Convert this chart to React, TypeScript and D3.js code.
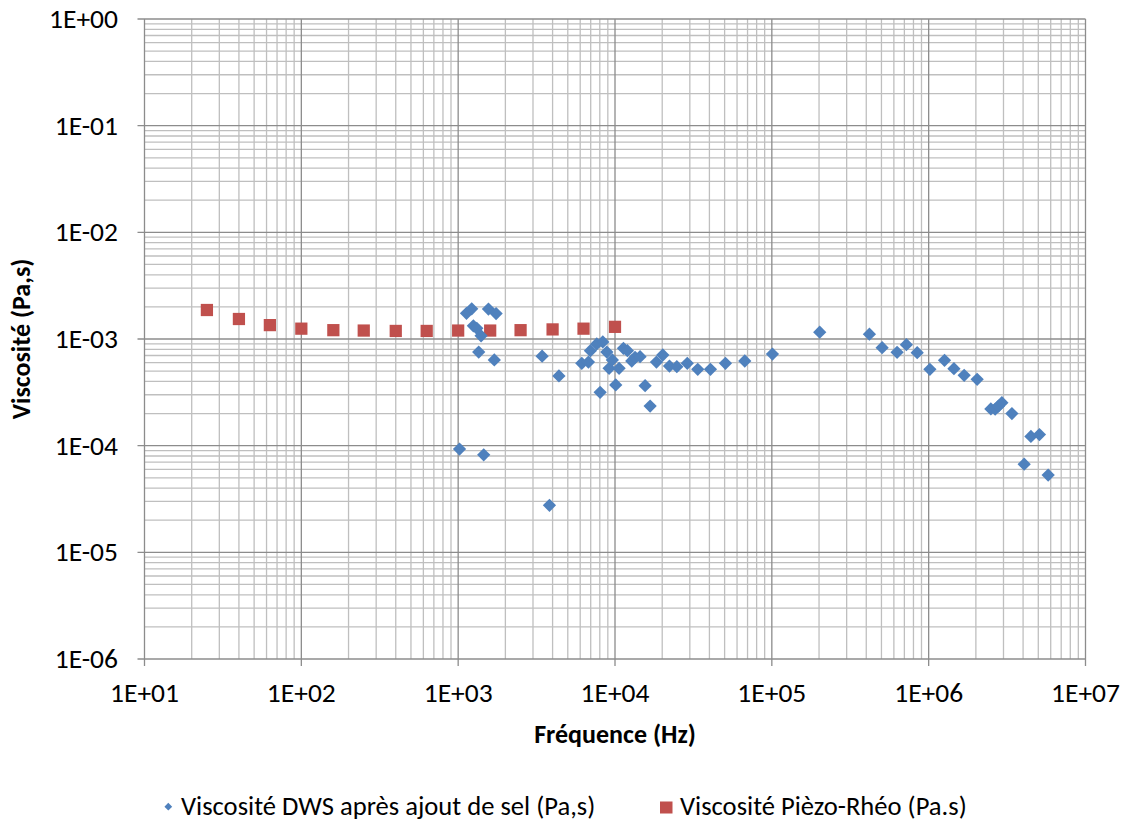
import React from "react";
import * as d3 from "d3";

const dwsFreq = [1020, 1130, 1220, 1250, 1315, 1352, 1400, 1455, 1560, 1700, 1745, 3430, 3820, 4390, 6140, 6770, 6970, 7650, 8040, 8360, 8870, 9170, 9620, 10110, 10620, 11320, 12000, 12790, 13430, 14450, 15560, 16750, 18380, 20170, 22250, 24790, 28900, 33700, 40600, 50600, 67200, 100900, 202000, 419000, 505000, 629000, 721000, 845000, 1018000, 1262000, 1449000, 1684000, 2038000, 2492000, 2655000, 2788000, 2930000, 3395000, 4065000, 4487000, 5085000, 5780000];
const dwsVisc = [9.3e-5, 1.74e-3, 1.92e-3, 1.33e-3, 1.26e-3, 7.55e-4, 1.07e-3, 8.2e-5, 1.91e-3, 6.36e-4, 1.73e-3, 6.9e-4, 2.76e-5, 4.5e-4, 5.92e-4, 6.08e-4, 7.77e-4, 8.98e-4, 3.16e-4, 9.38e-4, 7.55e-4, 5.31e-4, 6.36e-4, 3.71e-4, 5.31e-4, 8.18e-4, 7.77e-4, 6.22e-4, 6.73e-4, 6.83e-4, 3.65e-4, 2.35e-4, 6.08e-4, 7.08e-4, 5.58e-4, 5.5e-4, 5.92e-4, 5.2e-4, 5.2e-4, 5.92e-4, 6.22e-4, 7.23e-4, 1.16e-3, 1.11e-3, 8.3e-4, 7.5e-4, 8.85e-4, 7.44e-4, 5.2e-4, 6.31e-4, 5.27e-4, 4.57e-4, 4.19e-4, 2.21e-4, 2.2e-4, 2.35e-4, 2.53e-4, 2.0e-4, 6.7e-5, 1.22e-4, 1.27e-4, 5.3e-5];

const piezoFreq = [25, 40, 63, 100, 160, 250, 400, 630, 1000, 1600, 2500, 4000, 6300, 10000];
const piezoVisc = [1.87e-3, 1.54e-3, 1.35e-3, 1.25e-3, 1.21e-3, 1.2e-3, 1.19e-3, 1.19e-3, 1.2e-3, 1.2e-3, 1.21e-3, 1.23e-3, 1.25e-3, 1.3e-3];

const xTickLabels = ["1E+01", "1E+02", "1E+03", "1E+04", "1E+05", "1E+06", "1E+07"];
const yTickLabels = ["1E-06", "1E-05", "1E-04", "1E-03", "1E-02", "1E-01", "1E+00"];

const seriesNames = ["Viscosité DWS après ajout de sel (Pa,s)", "Viscosité Pièzo-Rhéo (Pa.s)"];
const xTitle = "Fréquence (Hz)";
const yTitle = "Viscosité (Pa,s)";

const W = 1128;
const H = 821;
const left = 144.5;
const right = 1085.5;
const top = 19;
const bottom = 659;
const FONT = "Carlito, Lato, 'Liberation Sans', sans-serif";
const BLUE = "#4F81BD";
const RED = "#C0504D";

export default function App() {
  const x = d3.scaleLog().domain([10, 1e7]).range([left, right]);
  const y = d3.scaleLog().domain([1e-6, 1]).range([bottom, top]);

  const xMinor: number[] = [];
  for (let e = 1; e < 7; e++) for (let m = 2; m <= 9; m++) xMinor.push(m * Math.pow(10, e));
  const yMinor: number[] = [];
  for (let e = -6; e < 0; e++) for (let m = 2; m <= 9; m++) yMinor.push(m * Math.pow(10, e));
  const xMajor = xTickLabels.map((_, i) => Math.pow(10, i + 1));
  const yMajor = yTickLabels.map((_, i) => Math.pow(10, i - 6));

  const diamond = d3.symbol().type(d3.symbolSquare).size(88)();
  const square = d3.symbol().type(d3.symbolSquare).size(150)();

  return (
    <svg width={W} height={H} style={{ position: "absolute", left: 0, top: 0, background: "#fff" }} fontFamily={FONT}>
      <rect x={0} y={0} width={W} height={H} fill="#fff" />
      {xMinor.map((v, i) => (
        <line key={"xm" + i} x1={x(v)} x2={x(v)} y1={top} y2={bottom} stroke="#BFBFBF" strokeWidth={1.3} />
      ))}
      {yMinor.map((v, i) => (
        <line key={"ym" + i} x1={left} x2={right} y1={y(v)} y2={y(v)} stroke="#BFBFBF" strokeWidth={1.3} />
      ))}
      {xMajor.map((v, i) => (
        <line key={"xM" + i} x1={x(v)} x2={x(v)} y1={top} y2={bottom + 7} stroke="#8C8C8C" strokeWidth={1.3} />
      ))}
      {yMajor.map((v, i) => (
        <line key={"yM" + i} x1={left - 7} x2={right} y1={y(v)} y2={y(v)} stroke="#8C8C8C" strokeWidth={1.3} />
      ))}
      {xTickLabels.map((t, i) => (
        <text key={"xt" + i} x={x(xMajor[i])} y={702} textAnchor="middle" fontSize={27.5} fill="#000">{t}</text>
      ))}
      {yTickLabels.map((t, i) => (
        <text key={"yt" + i} x={118} y={y(yMajor[i]) + 9} textAnchor="end" fontSize={27.5} fill="#000">{t}</text>
      ))}
      <text x={615} y={743} textAnchor="middle" fontSize={26} fontWeight="bold" fill="#000">{xTitle}</text>
      <text transform={`translate(30,${(top + bottom) / 2}) rotate(-90)`} textAnchor="middle" fontSize={26} fontWeight="bold" fill="#000">{yTitle}</text>
      {piezoFreq.map((f, i) => (
        <path key={"p" + i} d={square} transform={`translate(${x(f)},${y(piezoVisc[i])})`} fill={RED} />
      ))}
      {dwsFreq.map((f, i) => (
        <path key={"d" + i} d={diamond} transform={`translate(${x(f)},${y(dwsVisc[i])}) rotate(45)`} fill={BLUE} />
      ))}
      <path d={d3.symbol().type(d3.symbolSquare).size(30)()} transform="translate(168.3,806.7) rotate(45)" fill={BLUE} />
      <text x={181} y={815} fontSize={26.6} fill="#000">{seriesNames[0]}</text>
      <rect x={660} y={801.5} width={12.5} height={12} fill={RED} />
      <text x={680} y={815} fontSize={26.6} fill="#000">{seriesNames[1]}</text>
    </svg>
  );
}
